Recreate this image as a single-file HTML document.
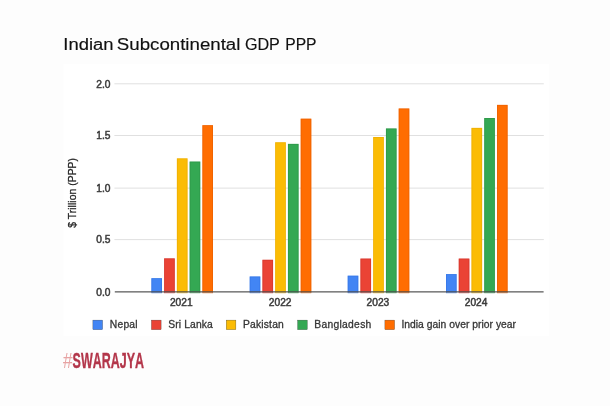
<!DOCTYPE html>
<html><head><meta charset="utf-8"><title>Indian Subcontinental GDP PPP</title>
<style>
html,body{margin:0;padding:0;}
body{width:610px;height:406px;background:#fdfdfd;overflow:hidden;font-family:"Liberation Sans",sans-serif;position:relative;}
svg{position:absolute;left:0;top:0;will-change:transform;}
svg text{font-family:"Liberation Sans",sans-serif;}
</style></head><body>
<svg width="610" height="406" viewBox="0 0 610 406">
<rect x="63.5" y="64" width="485.5" height="272" fill="#ffffff"/>
<g font-size="15.8" fill="#111" id="title" stroke="#111" stroke-width="0.15">
<text x="63.3" y="49.7" textLength="50.2" lengthAdjust="spacingAndGlyphs">Indian</text>
<text x="116.8" y="49.7" textLength="123.6" lengthAdjust="spacingAndGlyphs">Subcontinental</text>
<text x="244.9" y="49.7" textLength="35" lengthAdjust="spacingAndGlyphs">GDP</text>
<text x="285.2" y="49.7" textLength="31.4" lengthAdjust="spacingAndGlyphs">PPP</text>
</g>
<rect x="114.4" y="83.3" width="429.4" height="1" fill="#e0e0e0"/>
<rect x="114.4" y="135.0" width="429.4" height="1" fill="#e0e0e0"/>
<rect x="114.4" y="187.6" width="429.4" height="1" fill="#e0e0e0"/>
<rect x="114.4" y="239.1" width="429.4" height="1" fill="#e0e0e0"/>

<rect x="151.40" y="278.20" width="10.6" height="14.30" fill="#4285f4"/>
<rect x="151.80" y="278.60" width="9.80" height="14.30" fill="none" stroke="#2f6fe0" stroke-width="0.8" stroke-opacity="0.55"/>
<rect x="164.15" y="258.40" width="10.6" height="34.10" fill="#ea4335"/>
<rect x="164.55" y="258.80" width="9.80" height="34.10" fill="none" stroke="#c9302a" stroke-width="0.8" stroke-opacity="0.55"/>
<rect x="176.90" y="158.40" width="10.6" height="134.10" fill="#fbbc04"/>
<rect x="177.30" y="158.80" width="9.80" height="134.10" fill="none" stroke="#e6a500" stroke-width="0.8" stroke-opacity="0.55"/>
<rect x="189.65" y="161.60" width="10.6" height="130.90" fill="#34a853"/>
<rect x="190.05" y="162.00" width="9.80" height="130.90" fill="none" stroke="#2a8c44" stroke-width="0.8" stroke-opacity="0.55"/>
<rect x="202.40" y="125.20" width="10.6" height="167.30" fill="#ff6d01"/>
<rect x="202.80" y="125.60" width="9.80" height="167.30" fill="none" stroke="#e05a00" stroke-width="0.8" stroke-opacity="0.55"/>
<rect x="249.70" y="276.50" width="10.6" height="16.00" fill="#4285f4"/>
<rect x="250.10" y="276.90" width="9.80" height="16.00" fill="none" stroke="#2f6fe0" stroke-width="0.8" stroke-opacity="0.55"/>
<rect x="262.45" y="259.80" width="10.6" height="32.70" fill="#ea4335"/>
<rect x="262.85" y="260.20" width="9.80" height="32.70" fill="none" stroke="#c9302a" stroke-width="0.8" stroke-opacity="0.55"/>
<rect x="275.20" y="142.30" width="10.6" height="150.20" fill="#fbbc04"/>
<rect x="275.60" y="142.70" width="9.80" height="150.20" fill="none" stroke="#e6a500" stroke-width="0.8" stroke-opacity="0.55"/>
<rect x="287.95" y="143.90" width="10.6" height="148.60" fill="#34a853"/>
<rect x="288.35" y="144.30" width="9.80" height="148.60" fill="none" stroke="#2a8c44" stroke-width="0.8" stroke-opacity="0.55"/>
<rect x="300.70" y="118.70" width="10.6" height="173.80" fill="#ff6d01"/>
<rect x="301.10" y="119.10" width="9.80" height="173.80" fill="none" stroke="#e05a00" stroke-width="0.8" stroke-opacity="0.55"/>
<rect x="347.70" y="275.70" width="10.6" height="16.80" fill="#4285f4"/>
<rect x="348.10" y="276.10" width="9.80" height="16.80" fill="none" stroke="#2f6fe0" stroke-width="0.8" stroke-opacity="0.55"/>
<rect x="360.45" y="258.60" width="10.6" height="33.90" fill="#ea4335"/>
<rect x="360.85" y="259.00" width="9.80" height="33.90" fill="none" stroke="#c9302a" stroke-width="0.8" stroke-opacity="0.55"/>
<rect x="373.20" y="137.00" width="10.6" height="155.50" fill="#fbbc04"/>
<rect x="373.60" y="137.40" width="9.80" height="155.50" fill="none" stroke="#e6a500" stroke-width="0.8" stroke-opacity="0.55"/>
<rect x="385.95" y="128.50" width="10.6" height="164.00" fill="#34a853"/>
<rect x="386.35" y="128.90" width="9.80" height="164.00" fill="none" stroke="#2a8c44" stroke-width="0.8" stroke-opacity="0.55"/>
<rect x="398.70" y="108.50" width="10.6" height="184.00" fill="#ff6d01"/>
<rect x="399.10" y="108.90" width="9.80" height="184.00" fill="none" stroke="#e05a00" stroke-width="0.8" stroke-opacity="0.55"/>
<rect x="446.00" y="274.10" width="10.6" height="18.40" fill="#4285f4"/>
<rect x="446.40" y="274.50" width="9.80" height="18.40" fill="none" stroke="#2f6fe0" stroke-width="0.8" stroke-opacity="0.55"/>
<rect x="458.75" y="258.60" width="10.6" height="33.90" fill="#ea4335"/>
<rect x="459.15" y="259.00" width="9.80" height="33.90" fill="none" stroke="#c9302a" stroke-width="0.8" stroke-opacity="0.55"/>
<rect x="471.50" y="127.90" width="10.6" height="164.60" fill="#fbbc04"/>
<rect x="471.90" y="128.30" width="9.80" height="164.60" fill="none" stroke="#e6a500" stroke-width="0.8" stroke-opacity="0.55"/>
<rect x="484.25" y="118.00" width="10.6" height="174.50" fill="#34a853"/>
<rect x="484.65" y="118.40" width="9.80" height="174.50" fill="none" stroke="#2a8c44" stroke-width="0.8" stroke-opacity="0.55"/>
<rect x="497.00" y="104.90" width="10.6" height="187.60" fill="#ff6d01"/>
<rect x="497.40" y="105.30" width="9.80" height="187.60" fill="none" stroke="#e05a00" stroke-width="0.8" stroke-opacity="0.55"/>

<rect x="114.8" y="291.15" width="428.8" height="1.4" fill="#4a4a4a" fill-opacity="0.82"/>
<g font-size="10.2" fill="#3c3c3c" stroke="#3c3c3c" stroke-width="0.5">
<text x="110.5" y="87.6" text-anchor="end">2.0</text>
<text x="110.5" y="139.3" text-anchor="end">1.5</text>
<text x="110.5" y="191.9" text-anchor="end">1.0</text>
<text x="110.5" y="243.4" text-anchor="end">0.5</text>
<text x="110.5" y="295.7" text-anchor="end">0.0</text>

<text x="181.3" y="306.4" text-anchor="middle">2021</text>
<text x="280.2" y="306.4" text-anchor="middle">2022</text>
<text x="377.9" y="306.4" text-anchor="middle">2023</text>
<text x="476.1" y="306.4" text-anchor="middle">2024</text>

</g>
<g font-size="10.3" fill="#363636" stroke="#363636" stroke-width="0.3">
<rect x="92.9" y="320.1" width="9.7" height="9.6" fill="#4285f4"/><text x="109.8" y="328.3" textLength="27.8" lengthAdjust="spacing">Nepal</text>
<rect x="151.4" y="320.1" width="9.7" height="9.6" fill="#ea4335"/><text x="168.2" y="328.3" textLength="44.6" lengthAdjust="spacing">Sri Lanka</text>
<rect x="226.2" y="320.1" width="9.7" height="9.6" fill="#fbbc04"/><text x="243.0" y="328.3" textLength="40.8" lengthAdjust="spacing">Pakistan</text>
<rect x="297.6" y="320.1" width="9.7" height="9.6" fill="#34a853"/><text x="314.3" y="328.3" textLength="57.0" lengthAdjust="spacing">Bangladesh</text>
<rect x="384.9" y="320.1" width="9.7" height="9.6" fill="#ff6d01"/><text x="401.4" y="328.3" textLength="114.6" lengthAdjust="spacing">India gain over prior year</text>

</g>
<text transform="translate(75.9,227.8) rotate(-90)" font-size="10.3" fill="#222" stroke="#222" stroke-width="0.25" textLength="69.8" lengthAdjust="spacing" id="ytitle">$ Trillion (PPP)</text>
<g id="logo" font-size="22.8" style="font-kerning:none">
<text x="63" y="368.2" fill="#e7a3a3" textLength="9.6" lengthAdjust="spacingAndGlyphs">#</text>
<text x="72.6" y="368.2" fill="#b3364a" font-weight="bold" stroke="#b3364a" stroke-width="0.4" textLength="71.4" lengthAdjust="spacingAndGlyphs">SWARAJYA</text>
</g>
</svg>
</body></html>
